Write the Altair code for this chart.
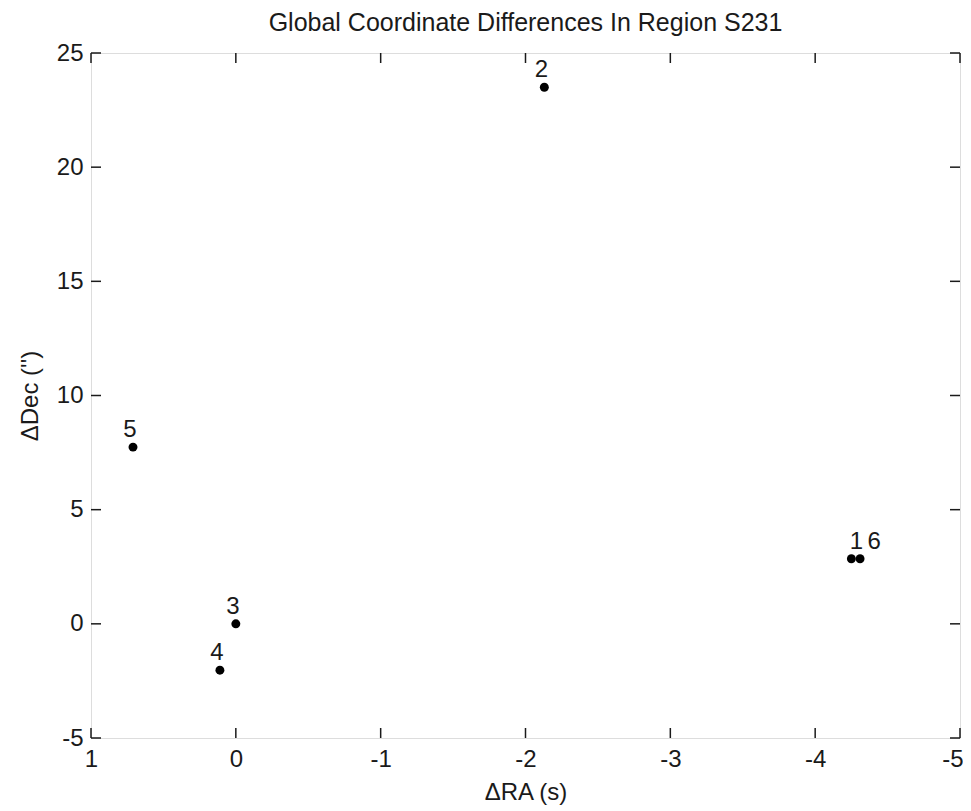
import altair as alt
import pandas as pd

# Data
point_ids = [1, 2, 3, 4, 5, 6]
delta_ra = [-4.25, -2.13, 0.0, 0.11, 0.71, -4.31]
delta_dec = [2.85, 23.5, 0.0, -2.03, 7.74, 2.85]

x_ticks = [1, 0, -1, -2, -3, -4, -5]
y_ticks = [-5, 0, 5, 10, 15, 20, 25]

W, H = 869, 685
FONT = "Liberation Sans"
FS = 24
TICK = 10
INK = "#1a1a1a"

df = pd.DataFrame({"id": point_ids, "ra": delta_ra, "dec": delta_dec})
df["label"] = df["id"].astype(str)
xt = pd.DataFrame({"v": x_ticks})
yt = pd.DataFrame({"v": y_ticks})

xscale = alt.Scale(domain=[-5, 1], reverse=True, nice=False, zero=False)
yscale = alt.Scale(domain=[-5, 25], nice=False, zero=False)

plain = "'' + datum.value"

xaxis = alt.Axis(values=x_ticks, ticks=False, domain=False, grid=False,
                 labelFontSize=FS, labelFont=FONT, labelColor=INK, labelPadding=9,
                 labelExpr=plain, labelFlush=False,
                 labelAlign={"condition": {"test": "datum.value == -5", "value": "right"},
                             "value": "center"},
                 labelOffset={"condition": {"test": "datum.value == -5", "value": 3},
                              "value": 0},
                 title="ΔRA (s)", titleFont=FONT, titleFontSize=FS,
                 titleFontWeight="normal", titleColor=INK, titlePadding=9)
yaxis = alt.Axis(values=y_ticks, ticks=False, domain=False, grid=False,
                 labelFontSize=FS, labelFont=FONT, labelColor=INK, labelPadding=8,
                 labelExpr=plain, labelFlush=False,
                 title="ΔDec ('')", titleFont=FONT, titleFontSize=FS,
                 titleFontWeight="normal", titleColor=INK, titlePadding=14)

points = alt.Chart(df).mark_circle(size=80, color="black", opacity=1).encode(
    x=alt.X("ra:Q", scale=xscale, axis=xaxis),
    y=alt.Y("dec:Q", scale=yscale, axis=yaxis),
)

def labels(filter_expr, dx):
    return alt.Chart(df).transform_filter(filter_expr).mark_text(
        font=FONT, fontSize=FS, color=INK, align="center",
        baseline="alphabetic", dx=dx, dy=-10
    ).encode(
        x=alt.X("ra:Q", scale=xscale),
        y=alt.Y("dec:Q", scale=yscale),
        text="label:N",
    )

lab_main = labels("datum.id != 1 && datum.id != 6", -3)
lab_1 = labels("datum.id == 1", 5)
lab_6 = labels("datum.id == 6", 14)

tick_style = dict(color=INK, strokeWidth=1.5)
xt_bottom = alt.Chart(xt).mark_rule(**tick_style).encode(
    x=alt.X("v:Q", scale=xscale), y=alt.value(H - TICK), y2=alt.value(H))
xt_top = alt.Chart(xt).mark_rule(**tick_style).encode(
    x=alt.X("v:Q", scale=xscale), y=alt.value(0), y2=alt.value(TICK))
yt_left = alt.Chart(yt).mark_rule(**tick_style).encode(
    y=alt.Y("v:Q", scale=yscale), x=alt.value(0), x2=alt.value(TICK))
yt_right = alt.Chart(yt).mark_rule(**tick_style).encode(
    y=alt.Y("v:Q", scale=yscale), x=alt.value(W - TICK), x2=alt.value(W))

chart = alt.layer(
    xt_bottom, xt_top, yt_left, yt_right, points, lab_main, lab_1, lab_6
).properties(
    width=W, height=H,
    title=alt.TitleParams("Global Coordinate Differences In Region S231",
                          font=FONT, fontSize=25, fontWeight="normal",
                          color=INK, anchor="middle", offset=5),
    autosize=alt.AutoSizeParams(type="none"),
    padding={"left": 83, "top": 45, "right": 3, "bottom": 68},
).configure_view(
    stroke=INK, strokeWidth=1.5
).configure(background="white")

chart.save("out.html", embed_options={"renderer": "svg", "actions": False})
